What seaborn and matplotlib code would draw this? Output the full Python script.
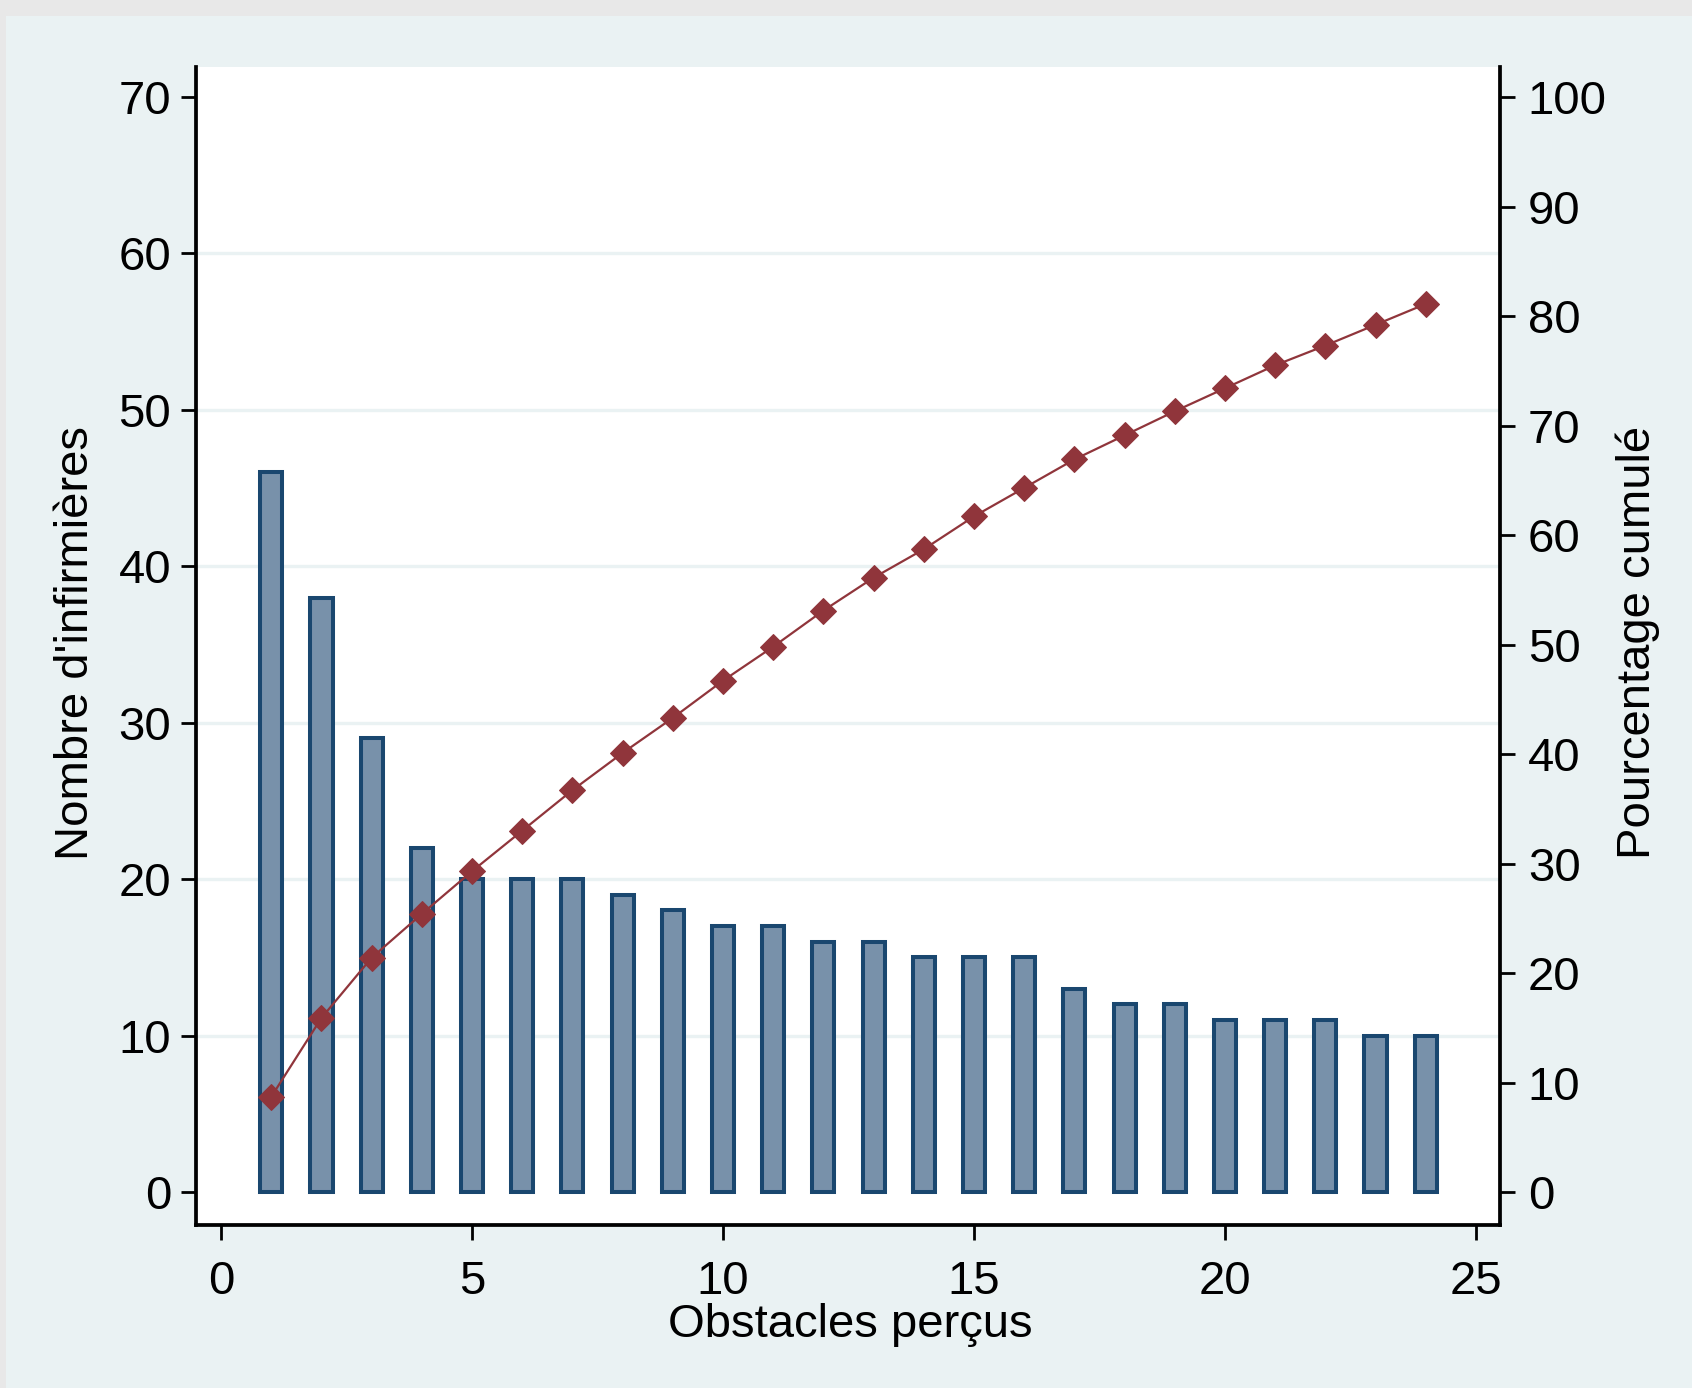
import matplotlib
matplotlib.use("Agg")
import matplotlib.pyplot as plt
import seaborn as sns
import numpy as np
import pandas as pd
from matplotlib.patches import Rectangle

# ---- data ----
obstacles = list(range(1, 25))
nombre = [46, 38, 29, 22, 20, 20, 20, 19, 18, 17, 17, 16,
          16, 15, 15, 15, 13, 12, 12, 11, 11, 11, 10, 10]
cumule = [8.7, 15.9, 21.4, 25.4, 29.3, 33.0, 36.7, 40.1, 43.3, 46.7, 49.8, 53.1,
          56.1, 58.7, 61.7, 64.3, 66.9, 69.1, 71.3, 73.4, 75.5, 77.3, 79.2, 81.1]
left_ticks = [0, 10, 20, 30, 40, 50, 60, 70]
right_ticks = [0, 10, 20, 30, 40, 50, 60, 70, 80, 90, 100]
x_ticks = [0, 5, 10, 15, 20, 25]

df = pd.DataFrame({"obstacle": obstacles, "nombre": nombre, "cumule": cumule})

sns.set_theme(style="white")
plt.rcParams['font.family'] = ['Liberation Sans', 'DejaVu Sans']

PANEL = "#eaf2f3"
NAVY = "#1a476f"
FILL = "#7891aa"
MAROON = "#90353b"

fig = plt.figure(figsize=(16.92, 13.88), dpi=100)
fig.patch.set_facecolor("#e8e8e8")
fig.patches.append(Rectangle((6/1692, 0), 1, 1 - 16/1388, transform=fig.transFigure,
                             facecolor=PANEL, edgecolor="none", zorder=-10))

ax1 = fig.add_axes([196/1692, 163/1388, 1304/1692, 1158/1388])
ax1.set_facecolor("white")

for g in [10, 20, 30, 40, 50, 60]:
    ax1.axhline(g, color=PANEL, lw=2.4, zorder=0)

sns.barplot(data=df, x="obstacle", y="nombre", ax=ax1, native_scale=True,
            width=0.44, color=FILL, saturation=1, edgecolor=NAVY, linewidth=2.9,
            errorbar=None, zorder=2)

ax1.set_xlim(-0.5, 25.48)
ax1.set_ylim(-2.11, 71.92)
ax1.set_xticks(x_ticks)
ax1.set_xticklabels([str(t) for t in x_ticks])
ax1.set_yticks(left_ticks)
ax1.set_yticklabels([str(t) for t in left_ticks])

ax2 = ax1.twinx()
sns.lineplot(data=df, x="obstacle", y="cumule", ax=ax2, color=MAROON, lw=1.6,
             marker="D", markersize=13, markeredgecolor=MAROON, markerfacecolor=MAROON)
ax2.set_ylim(-3.01, 102.74)
ax2.set_yticks(right_ticks)
ax2.set_yticklabels([str(t) for t in right_ticks])

FS_T = 34
FS_L = 34
for ax in (ax1, ax2):
    ax.spines["top"].set_visible(False)
    for s in ["left", "right", "bottom"]:
        ax.spines[s].set_color("black")
        ax.spines[s].set_linewidth(2.7)
ax2.spines["left"].set_visible(False)
ax2.spines["bottom"].set_visible(False)
ax1.spines["right"].set_visible(False)

ax1.tick_params(axis="y", direction="out", length=11, width=2, pad=7,
                labelsize=FS_T, colors="black", left=True)
ax1.tick_params(axis="x", direction="out", length=11, width=2, pad=14,
                labelsize=FS_T, colors="black", bottom=True)
ax2.tick_params(axis="y", direction="out", length=11, width=2, pad=9,
                labelsize=FS_T, colors="black", right=True)

ax1.set_xlabel("Obstacles perçus", fontsize=FS_L, color="black", va="center")
ax1.xaxis.set_label_coords((850-196)/1304, (1225-1325)/1158)
ax1.set_ylabel("Nombre d'infirmières", fontsize=FS_L, color="black", va="center")
ax1.yaxis.set_label_coords((76-196)/1304, 0.503)
ax2.set_ylabel("Pourcentage cumulé", fontsize=FS_L, color="black", va="center")
ax2.yaxis.set_label_coords((1638-196)/1304, 0.503)

fig.savefig("out.png", dpi=100, facecolor=fig.get_facecolor())
